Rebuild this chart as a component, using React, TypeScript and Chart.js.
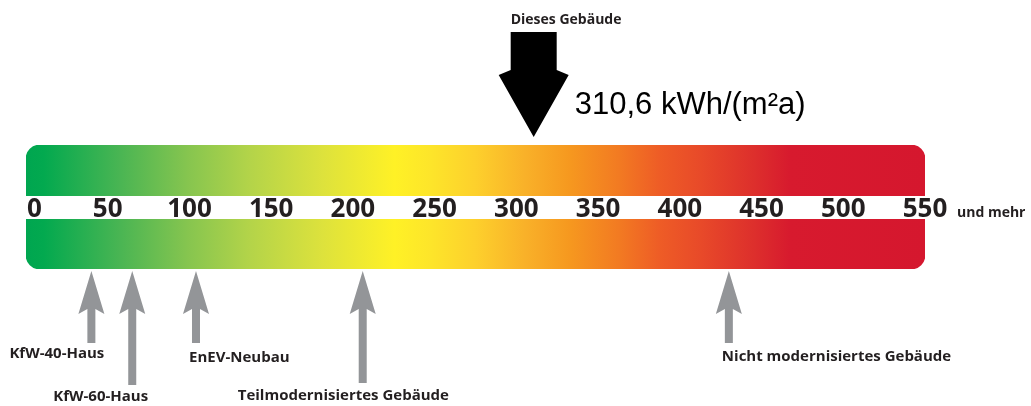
import { useEffect, useRef } from 'react';
import { Chart, registerables } from 'chart.js';

Chart.register(...registerables);

// ---- data ----
const scaleMin = 0;
const scaleMax = 550;
const tickValues = [0, 50, 100, 150, 200, 250, 300, 350, 400, 450, 500, 550];
const tickLabels = ['0', '50', '100', '150', '200', '250', '300', '350', '400', '450', '500', '550'];
const suffixLabel = 'und mehr';
const referenceNames = ['KfW-40-Haus', 'KfW-60-Haus', 'EnEV-Neubau', 'Teilmodernisiertes Gebäude', 'Nicht modernisiertes Gebäude'];
const referenceValues = [40, 65, 104, 206, 430];
const buildingValue = 310.6;
const buildingLabel = 'Dieses Gebäude';
const buildingValueText = '310,6 kWh/(m²a)';

// ---- style ----
const gradientStops: [number, string][] = [
  [0, '#00a650'],
  [0.02, '#03a94f'],
  [0.105, '#4ab553'],
  [0.18, '#86c54f'],
  [0.25, '#b4d449'],
  [0.33, '#dde23c'],
  [0.41, '#fff126'],
  [0.45, '#fde52a'],
  [0.5, '#fdd02c'],
  [0.555, '#f9b129'],
  [0.605, '#f6981f'],
  [0.66, '#f27a22'],
  [0.705, '#ee5c26'],
  [0.75, '#e84a29'],
  [0.81, '#dd2f2c'],
  [0.85, '#d71a2e'],
  [1, '#d5172e'],
];
const refArrowBottom = [343, 385, 343, 383, 343];
const refLabelDx = [-82, -79, -7, -125, -7];
const refLabelBaseline = [358, 401, 362, 400, 361];
const textColor = '#231f20';
const arrowGray = '#939598';

const overlayPlugin = {
  id: 'overlay',
  afterDatasetsDraw(chart: any) {
    const ctx = chart.ctx as CanvasRenderingContext2D;
    const xs = chart.scales.x;
    ctx.save();
    // white stripe across the band
    ctx.fillStyle = '#ffffff';
    ctx.fillRect(0, 196, chart.width, 23);

    // tick labels
    ctx.fillStyle = textColor;
    ctx.font = 'bold 26px "Open Sans"';
    ctx.textBaseline = 'alphabetic';
    tickValues.forEach((v, i) => {
      const px = xs.getPixelForValue(v);
      if (i === 0) {
        ctx.textAlign = 'left';
        ctx.fillText(tickLabels[i], px + 1, 217);
      } else {
        ctx.textAlign = 'center';
        ctx.fillText(tickLabels[i], px, 217);
      }
    });
    ctx.textAlign = 'left';
    ctx.font = 'bold 14px "Open Sans"';
    ctx.fillText(suffixLabel, xs.getPixelForValue(scaleMax) + 32, 217);

    // reference arrows (grey, pointing up)
    referenceValues.forEach((v, i) => {
      const x = xs.getPixelForValue(v);
      const bottom = refArrowBottom[i];
      ctx.fillStyle = arrowGray;
      ctx.beginPath();
      ctx.moveTo(x, 271);
      ctx.lineTo(x + 13, 314);
      ctx.lineTo(x + 4, 309);
      ctx.lineTo(x + 4, bottom);
      ctx.lineTo(x - 4, bottom);
      ctx.lineTo(x - 4, 309);
      ctx.lineTo(x - 13, 314);
      ctx.closePath();
      ctx.fill();
      ctx.fillStyle = textColor;
      ctx.font = 'bold 15px "Open Sans"';
      ctx.textAlign = 'left';
      ctx.fillText(referenceNames[i], x + refLabelDx[i], refLabelBaseline[i]);
    });

    // this building arrow (black, pointing down)
    const bx = xs.getPixelForValue(buildingValue);
    ctx.fillStyle = '#000000';
    ctx.beginPath();
    ctx.moveTo(bx, 137);
    ctx.lineTo(bx + 35, 75);
    ctx.lineTo(bx + 23, 70);
    ctx.lineTo(bx + 23, 32);
    ctx.lineTo(bx - 23, 32);
    ctx.lineTo(bx - 23, 70);
    ctx.lineTo(bx - 35, 75);
    ctx.closePath();
    ctx.fill();

    ctx.fillStyle = textColor;
    ctx.font = 'bold 14px "Open Sans"';
    ctx.textAlign = 'left';
    ctx.fillText(buildingLabel, bx - 23, 24);

    ctx.fillStyle = '#000000';
    ctx.font = '31px "Liberation Sans", Arial, sans-serif';
    ctx.fillText(buildingValueText, bx + 41, 114);
    ctx.restore();
  },
};

export default function App() {
  const canvasRef = useRef<HTMLCanvasElement | null>(null);

  useEffect(() => {
    const canvas = canvasRef.current;
    if (!canvas) return;
    const chart = new Chart(canvas, {
      type: 'bar',
      data: {
        labels: ['Endenergiebedarf'],
        datasets: [
          {
            data: [[scaleMin, scaleMax]] as any,
            backgroundColor: (c: any) => {
              const ch = c.chart;
              const xs = ch.scales?.x;
              if (!ch.chartArea || !xs) return '#fff126';
              const g = ch.ctx.createLinearGradient(xs.getPixelForValue(scaleMin), 0, xs.getPixelForValue(scaleMax), 0);
              gradientStops.forEach(([o, col]) => g.addColorStop(o, col));
              return g;
            },
            borderWidth: 0,
            borderRadius: 14,
            borderSkipped: false,
            barPercentage: 1,
            categoryPercentage: 1,
          },
        ],
      },
      options: {
        indexAxis: 'y',
        responsive: false,
        animation: false,
        layout: { padding: { left: 26, right: 106, top: 145, bottom: 137 } },
        scales: {
          x: { type: 'linear', min: scaleMin, max: scaleMax, display: false },
          y: { type: 'category', display: false },
        },
        plugins: { legend: { display: false }, tooltip: { enabled: false } },
      },
      plugins: [overlayPlugin],
    });
    return () => chart.destroy();
  }, []);

  return (
    <div style={{ position: 'fixed', left: 0, top: 0, width: 1031, height: 406, background: '#ffffff' }}>
      <canvas ref={canvasRef} width={1031} height={406} style={{ display: 'block', width: 1031, height: 406 }} />
    </div>
  );
}
